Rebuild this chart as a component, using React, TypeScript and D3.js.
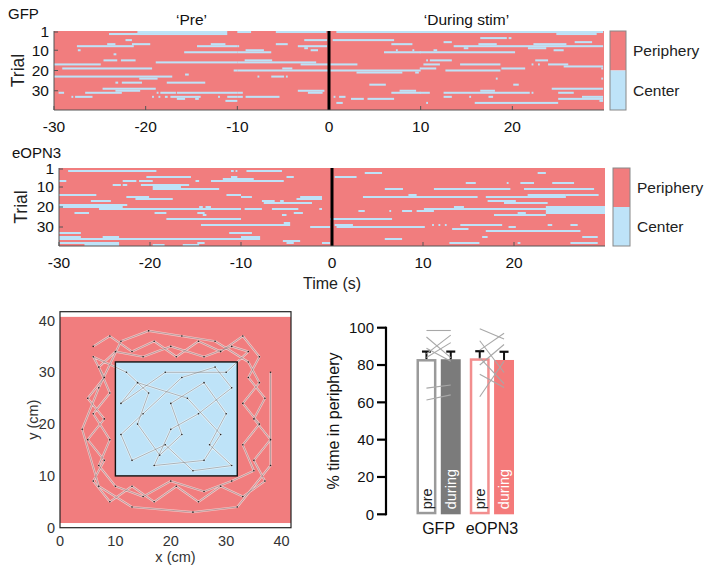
import React from 'react';
import * as d3 from 'd3';

// ---------- Raster data ----------
const timeTicks = [-30, -20, -10, 0, 10, 20];
const trialTicks = [1, 10, 20, 30];
const nTrials = 39;
const zoneLabels = ['Periphery', 'Center'];
const phaseHeaders = ['\u2018Pre\u2019', '\u2018During stim\u2019'];

// [trial, start (s), end (s)] bouts spent in the center
const gfpCenterBouts: [number, number, number][] = [
  [1, -20.9, -11.1], [2, -24, -11.1], [1, -10, -8.5], [1, -5.8, -0.3], [1, 0.8, 10], [1, 9.9, 29.9], [2, 24.8, 29.2],
  [4, 16.5, 19.4], [4, 19.6, 19.9],
  [5, -22.2, -21.5], [5, -2.7, -0.2], [5, 0.4, 7.1],
  [6, 12.5, 13.4], [6, 26.8, 28.7],
  [7, -24.2, -23.3], [7, -21.5, -19.5], [7, -12.9, -11.3], [7, -5.8, -4.5], [7, 6.8, 9.1], [7, 16.3, 18.3], [7, 22.3, 25.9],
  [8, -27.5, -21.3], [8, -14.4, -10], [8, -10, -9.8], [8, -3.4, -0.2], [8, 13.6, 29.9],
  [9, -2.7, -2.3], [9, 21.7, 23.7], [9, 14.7, 15.2],
  [10, -27.4, -27.1], [10, -2.0, -1.2], [10, -9.1, -7.1], [10, 7.3, 7.5], [10, 9.1, 9.3], [10, 24.5, 25.6], [10, 11.4, 11.8],
  [11, -15.8, -10], [11, -10, -6.3], [11, 6.0, 10], [11, 9.9, 20.3],
  [12, -23.5, -23.2],
  [15, -24.6, -23.1], [15, -22.7, -21.1], [15, -9.2, -6.2], [15, 10.6, 10.8], [15, 11.0, 13.4], [15, 22.5, 23.9],
  [16, -18.9, -10], [16, -10, -1.4],
  [17, -30, -24.9], [17, -3.1, 3.1], [17, 10.3, 12.1], [17, 14.3, 18.7], [17, 22.1, 22.3], [17, 22.8, 23.0], [17, 23.9, 26.1],
  [18, 25.6, 29.9],
  [19, -29.1, -19.3], [19, -5.1, -4.0], [19, 9.9, 11.7], [19, 18.8, 21.4], [19, 29.7, 29.9],
  [20, -10.4, -10], [20, -10, 10], [20, 12.7, 18.7],
  [21, 3.0, 8.0], [21, 9.4, 9.8],
  [22, -15.7, -15.3],
  [23, -30, -17.1], [23, -7.8, -7.6], [23, -6.3, -4.9], [23, -4.7, -4.5],
  [24, -20.7, -18.7], [24, 18.2, 18.4], [24, 29.7, 29.9],
  [26, -23.3, -23.0], [26, -22.6, -20.4], [26, -17.7, -13.5],
  [27, 4.4, 6.2], [27, 20.1, 20.7],
  [29, -24.7, -18.9], [29, 24.3, 29.9],
  [30, -23.3, -20.6], [30, -3.4, -0.5], [30, 7.7, 9.5], [30, 16.5, 18.1],
  [31, -29.5, -28.9], [31, -26.6, -22.6], [31, -18.8, -18.6], [31, -18.4, -16.7], [31, -16.6, -10], [31, -10, -9.4],
  [31, -2.3, -0.7], [31, 6.8, 10], [31, 9.9, 11.0], [31, 12.5, 21.9], [31, 22.1, 22.3], [31, 25.0, 26.7],
  [33, -28.1, -27.9], [33, -27.7, -25.8], [33, -19.3, -19.1], [33, -18.6, -18.4], [33, -17.9, -17.6], [33, -17.3, -14.0],
  [33, -12.1, -11.9], [33, -11.1, -10], [33, -10, -9.4], [33, -9.1, -5.4], [33, 0.5, 0.7], [33, 1.1, 1.8],
  [33, 12.5, 13.4], [33, 15.3, 15.5], [33, 17.4, 17.9], [33, 27.6, 29.9],
  [34, -16.6, -15.7], [34, -14.6, -14.2], [34, 2.4, 3.8], [34, 4.2, 7.1], [34, 25.0, 29.9],
  [35, -11.3, -10], [35, 29.5, 29.9],
  [36, 0.8, 1.5], [36, 10.6, 10.8], [36, 15.9, 25.0],
];

const eopnCenterBouts: [number, number, number][] = [
  [2, -29.0, -19.3], [2, -11.1, -10.8], [2, -10.6, -10.4], [2, -9.4, -5.5],
  [3, 3.6, 5.5], [3, 22.6, 23.5],
  [5, -20.4, -15.5], [5, -11.1, -10.4], [5, -5.0, -4.2], [5, 0.3, 2.7],
  [6, -12, -10], [6, -10, -8.6],
  [7, -30, -29.2], [7, -23.0, -21.5], [7, -21.2, -19.7], [7, -15, -14.6], [7, -13.3, -10], [7, -10, -5.3],
  [8, 14.7, 15.8], [8, 19.2, 19.4], [8, 20.7, 22.2], [8, 24.2, 26.6],
  [9, -24.1, -23.2], [9, -23.0, -22.5], [9, -21.0, -15.7],
  [10, -19.7, -16.6],
  [11, -19.7, -12.4], [11, 5.8, 7.8], [11, 11.2, 19.6], [11, 21.1, 28.8],
  [14, -30, -25.9], [14, -11.6, -10], [14, 8.4, 9.3], [14, 21.5, 25.7], [14, 25.7, 29.3],
  [15, -22.6, -20.1], [15, -10, -8.8], [15, -3.5, -1.1], [15, 3.4, 10.2], [15, 10.1, 16.0], [15, 16.9, 25.7],
  [16, -21.6, -17.5], [16, -3.9, -1.1],
  [17, -26.5, -24.3], [17, -7.7, -6.3], [17, -5.7, -5.3], [17, 17.1, 20.2],
  [18, -7.5, -2.2], [18, 18.9, 23.7],
  [19, -30, -22.5],
  [20, -30, -23], [20, -14.6, -14.2], [20, -13.9, -13.3], [20, 13.4, 14.5], [20, 23.5, 30],
  [21, -25.6, -10], [21, -9.6, -7.7], [21, -6.6, -3.7], [21, -1.4, -1.1], [21, 10.1, 30],
  [22, 2.9, 3.6], [22, 6.3, 6.5], [22, 7.7, 8.8], [22, 9.3, 10.2], [22, 10.1, 11.2], [22, 23.5, 30],
  [23, -28.3, -26.7], [23, -19.5, -18.2], [23, -14.8, -14.0], [23, -4.2, -3.2], [23, 20.4, 21.3], [23, 23.5, 30],
  [24, -14.2, -13.8], [24, -5.5, -5.0], [24, 17.8, 23.5],
  [26, -18.2, -10], [26, -0.2, 6.6],
  [28, -5.3, -4.6],
  [29, -14.4, -10], [29, -10, -4.6], [29, 0.3, 2.3], [29, 11.0, 11.2], [29, 11.7, 11.9], [29, 12.4, 12.6],
  [29, 14.1, 18.7], [29, 23.7, 24.2], [29, 26.2, 27.0],
  [30, -2.4, -0.2], [30, 0.5, 10.2], [30, 19.4, 20.2],
  [31, 13.2, 15.0],
  [32, 16.9, 27.3],
  [33, -30, -27.6], [33, -11.3, -10], [33, -10, -8.8],
  [35, -30, -27.6], [35, -25.2, -23.4], [35, -10, -7.9], [35, 16.5, 17.1], [35, 27.5, 29.2],
  [36, -30, -10], [36, -10, -7.9], [36, 5.8, 7.7],
  [37, -5.4, -3.5],
  [38, -30, -23.4], [38, -14.8, -14.0], [38, -5.0, -4.2], [38, -1.1, -0.2], [38, 12.9, 16.2], [38, 20.4, 20.7], [38, 26.2, 29.2],
  [39, -27.2, -23.4], [39, -19.7, -18.4], [39, -16.4, -14.6],
];

// ---------- Open field data ----------
const arenaTicks = [0, 10, 20, 30, 40];
const arenaMax = 41.7;
const centerZone = [10, 32];
const peripheryBand = [0.9, 40.7];
const trajectory: [number, number][] = [
  [6, 35], [9, 37], [13, 34], [17, 36], [21, 33], [25, 36], [29, 34], [33, 37], [36, 33], [34, 29], [37, 25],
  [35, 21], [38, 17], [35, 13], [37, 9], [33, 6], [29, 8], [25, 5], [21, 8], [17, 5], [13, 8], [9, 5], [6, 9],
  [8, 13], [5, 17], [8, 21], [5, 25], [8, 29], [6, 33],
  [12, 30], [16, 26], [14, 20], [18, 14], [22, 18], [20, 24], [26, 28], [30, 22], [27, 16], [31, 12], [24, 11],
  [19, 16], [13, 13], [11, 18], [15, 22], [22, 29], [28, 31], [31, 27], [25, 22], [20, 19], [17, 12], [26, 13],
  [29, 18], [23, 25], [14, 28], [11, 24], [19, 30], [30, 30],
  [34, 34], [31, 35], [26, 33], [20, 35], [15, 33], [10, 34], [7, 31], [9, 26], [6, 22], [9, 17], [7, 12],
  [10, 8], [15, 6], [20, 9], [26, 7], [31, 9], [35, 11], [33, 16], [36, 20], [33, 24], [36, 28], [34, 32],
  [28, 36], [22, 37], [16, 38], [11, 36], [7, 27], [4, 19], [7, 8], [13, 4], [24, 3], [32, 4], [38, 12], [38, 30],
];

// ---------- Bar data ----------
const barGroups = ['GFP', 'eOPN3'];
const barPhases = ['pre', 'during'];
const gfpMeans = [83.2, 83.1];
const eopnMeans = [83.6, 82.7];
const gfpSem = [4.0, 4.1];
const eopnSem = [3.8, 4.4];
const gfpAnimals: [number, number][] = [
  [98.5, 98.5], [86, 96], [95, 84], [84, 92], [67.6, 69.3], [61.3, 64], [89, 82],
];
const eopnAnimals: [number, number][] = [
  [99.5, 94], [88, 97], [80, 91], [63, 82], [84, 70], [93, 76], [75, 68],
];
const barTicks = [0, 20, 40, 60, 80, 100];

const RED = '#F17D7E';
const BLUE = '#BEE3F8';
const FONT = "'Liberation Sans', Arial, Helvetica, sans-serif";

type RasterProps = {
  bouts: [number, number, number][];
  x0: number; x1: number; y0: number; y1: number;
  title: string; titleX: number; titleY: number;
  trialLabelX: number;
  legX0: number; legX1: number;
  headers?: boolean;
  timeLabel?: boolean;
};

function RasterPanel(p: RasterProps) {
  const x = d3.scaleLinear().domain([-30, 30]).range([p.x0, p.x1]);
  const y = d3.scaleLinear().domain([0.5, nTrials + 0.5]).range([p.y0, p.y1]);
  const legY = d3.scaleBand().domain(zoneLabels).range([p.y0, p.y1]);
  const tickCol = '#555';
  return (
    <g>
      <text x={p.titleX} y={p.titleY} fontSize={15} fill="#111">{p.title}</text>
      {p.headers && (
        <g fontSize={15.5} fill="#111" textAnchor="middle">
          <text x={x(-15)} y={p.y0 - 6}>{phaseHeaders[0]}</text>
          <text x={x(15)} y={p.y0 - 6}>{phaseHeaders[1]}</text>
        </g>
      )}
      <rect x={p.x0} y={p.y0} width={p.x1 - p.x0} height={p.y1 - p.y0} fill={RED} />
      {p.bouts.map(([t, s, e], i) => (
        <rect key={i} x={x(s)} y={y(t - 0.5)} width={Math.max(x(e) - x(s), 1)}
          height={y(t + 0.5) - y(t - 0.5)} fill={BLUE} />
      ))}
      <line x1={x(0)} x2={x(0)} y1={p.y0} y2={p.y1} stroke="#000" strokeWidth={3} />
      <line x1={p.x0} x2={p.x1} y1={p.y1} y2={p.y1} stroke={tickCol} strokeWidth={1} />
      <line x1={p.x0} x2={p.x0} y1={p.y0} y2={p.y1} stroke={tickCol} strokeWidth={1} />
      {timeTicks.map((t) => (
        <g key={t}>
          {t !== 0 && <line x1={x(t)} x2={x(t)} y1={p.y1} y2={p.y1 - 4} stroke={tickCol} />}
          <text x={x(t)} y={p.y1 + 22} fontSize={15.5} textAnchor="middle" fill="#111">{t}</text>
        </g>
      ))}
      {trialTicks.map((t) => (
        <g key={t}>
          <line x1={p.x0} x2={p.x0 + 4} y1={y(t)} y2={y(t)} stroke={tickCol} />
          <text x={p.x0 - 5} y={y(t)} dy="0.35em" fontSize={15.5} textAnchor="end" fill="#111">{t}</text>
        </g>
      ))}
      <text transform={`translate(${p.trialLabelX},${(p.y0 + p.y1) / 2}) rotate(-90)`} fontSize={17.5}
        textAnchor="middle" dy="0.35em" fill="#222">Trial</text>
      {zoneLabels.map((z, i) => (
        <g key={z}>
          <rect x={p.legX0} y={legY(z)} width={p.legX1 - p.legX0} height={legY.bandwidth()}
            fill={i === 0 ? RED : BLUE} />
          <text x={p.legX1 + 7} y={(legY(z) as number) + legY.bandwidth() / 2} dy="0.35em"
            fontSize={15.5} fill="#222">{z}</text>
        </g>
      ))}
      <rect x={p.legX0} y={p.y0} width={p.legX1 - p.legX0} height={p.y1 - p.y0} fill="none" stroke="#888" />
      {p.timeLabel && (
        <text x={x(0)} y={p.y1 + 43} fontSize={16} textAnchor="middle" fill="#222">Time (s)</text>
      )}
    </g>
  );
}

function OpenField() {
  const x = d3.scaleLinear().domain([0, arenaMax]).range([60, 291]);
  const y = d3.scaleLinear().domain([0, arenaMax]).range([527.7, 311.7]);
  const line = d3.line<[number, number]>().x((d) => x(d[0])).y((d) => y(d[1])).curve(d3.curveLinear);
  const path = line(trajectory) || '';
  return (
    <g>
      <rect x={x(0)} y={y(peripheryBand[1])} width={x(arenaMax) - x(0)}
        height={y(peripheryBand[0]) - y(peripheryBand[1])} fill={RED} />
      <rect x={x(centerZone[0])} y={y(centerZone[1])} width={x(centerZone[1]) - x(centerZone[0])}
        height={y(centerZone[0]) - y(centerZone[1])} fill={BLUE} />
      <path d={path} fill="none" stroke="#fff" strokeWidth={2.2} strokeOpacity={0.55} strokeLinejoin="round" />
      <path d={path} fill="none" stroke="#7d7d7d" strokeWidth={0.6} strokeOpacity={0.9} />
      {trajectory.map((d, i) => (
        <circle key={i} cx={x(d[0])} cy={y(d[1])} r={0.8} fill="#222" />
      ))}
      <rect x={x(centerZone[0])} y={y(centerZone[1])} width={x(centerZone[1]) - x(centerZone[0])}
        height={y(centerZone[0]) - y(centerZone[1])} fill="none" stroke="#111" strokeWidth={1.4} />
      <rect x={x(0)} y={y(arenaMax)} width={x(arenaMax) - x(0)} height={y(0) - y(arenaMax)}
        fill="none" stroke="#222" strokeWidth={1.2} />
      {arenaTicks.map((t) => (
        <g key={t} fontSize={14.5} fill="#333">
          <text x={x(t)} y={y(0) + 18} textAnchor="middle">{t}</text>
          <text x={x(0) - 5} y={y(t)} dy="0.35em" textAnchor="end">{t}</text>
        </g>
      ))}
      <text x={x(arenaMax / 2)} y={y(0) + 34} fontSize={14.5} textAnchor="middle" fill="#333">x (cm)</text>
      <text transform={`translate(${33},${y(arenaMax / 2)}) rotate(-90)`} fontSize={14.5}
        textAnchor="middle" dy="0.35em" fill="#333">y (cm)</text>
    </g>
  );
}

function BarChart() {
  const y = d3.scaleLinear().domain([0, 100]).range([514.3, 327.7]);
  const gx = d3.scaleBand().domain(barGroups).range([416.5, 514]).paddingInner(0.17);
  const px = d3.scaleBand().domain(barPhases).range([0, gx.bandwidth()]).paddingInner(0.18);
  const means = [gfpMeans, eopnMeans];
  const sems = [gfpSem, eopnSem];
  const animals = [gfpAnimals, eopnAnimals];
  const outline = ['#9a9a9a', '#F28E8E'];
  const fillc = ['#7b7b7b', '#F47A7A'];
  const axisX = 386;
  const bw = px.bandwidth();
  return (
    <g>
      {barGroups.map((g, gi) => {
        const gx0 = gx(g) as number;
        const cx = barPhases.map((ph) => gx0 + (px(ph) as number) + bw / 2);
        return (
          <g key={g}>
            {barPhases.map((ph, pi) => {
              const bx = gx0 + (px(ph) as number);
              const v = means[gi][pi];
              const top = y(v);
              const open = pi === 0;
              return (
                <g key={ph}>
                  {open ? (
                    <rect x={bx + 1.25} y={top + 1.25} width={bw - 2.5} height={y(0) - top - 2.5}
                      fill="#fff" stroke={outline[gi]} strokeWidth={2.5} />
                  ) : (
                    <rect x={bx} y={top} width={bw} height={y(0) - top} fill={fillc[gi]} />
                  )}
                  <line x1={bx + bw / 2} x2={bx + bw / 2} y1={top} y2={y(v + sems[gi][pi])} stroke="#111" strokeWidth={2} />
                  <line x1={bx + bw / 2 - 4.5} x2={bx + bw / 2 + 4.5} y1={y(v + sems[gi][pi])} y2={y(v + sems[gi][pi])}
                    stroke="#111" strokeWidth={2.2} />
                  <text transform={`translate(${bx + bw / 2},${y(0) - 5}) rotate(-90)`} dy="0.35em"
                    fontSize={14.5} fill={open ? '#222' : '#fff'}>{ph}</text>
                </g>
              );
            })}
            {animals[gi].map((a, i) => (
              <line key={i} x1={cx[0]} x2={cx[1]} y1={y(a[0])} y2={y(a[1])} stroke="#a8a8a8" strokeWidth={1.1} />
            ))}
            <text x={(cx[0] + cx[1]) / 2} y={y(0) + 20} fontSize={16} textAnchor="middle" fill="#111">{g}</text>
          </g>
        );
      })}
      <line x1={axisX} x2={axisX} y1={y(0) + 1} y2={y(100) - 1} stroke="#000" strokeWidth={2.2} />
      {barTicks.map((t) => (
        <g key={t}>
          <line x1={axisX - 9} x2={axisX} y1={y(t)} y2={y(t)} stroke="#000" strokeWidth={2.2} />
          <text x={axisX - 12} y={y(t)} dy="0.35em" fontSize={15} textAnchor="end" fill="#111">{t}</text>
        </g>
      ))}
      <text transform={`translate(333,${y(50)}) rotate(-90)`} fontSize={16} textAnchor="middle" dy="0.35em"
        fill="#111">% time in periphery</text>
    </g>
  );
}

export default function App() {
  return (
    <svg width={704} height={570} style={{ position: 'absolute', left: 0, top: 0, background: '#fff' }}
      fontFamily={FONT}>
      <rect width={704} height={570} fill="#fff" />
      <RasterPanel bouts={gfpCenterBouts} x0={54} x1={604} y0={31} y1={110} title="GFP" titleX={8} titleY={19}
        trialLabelX={18} legX0={610} legX1={626} headers />
      <RasterPanel bouts={eopnCenterBouts} x0={59} x1={605} y0={168} y1={246} title="eOPN3" titleX={12} titleY={158}
        trialLabelX={21} legX0={613} legX1={630} timeLabel />
      <OpenField />
      <BarChart />
    </svg>
  );
}
